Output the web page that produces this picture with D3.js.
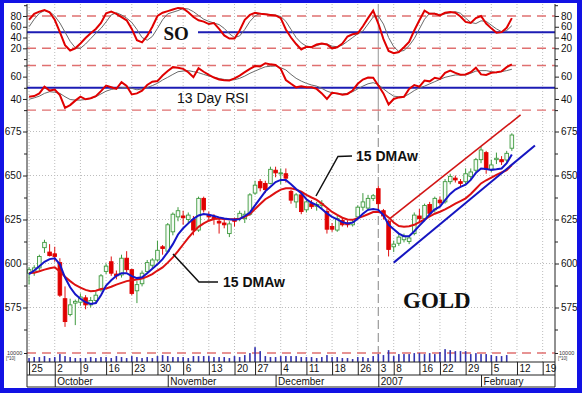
<!DOCTYPE html>
<html>
<head>
<meta charset="utf-8">
<script src="https://cdnjs.cloudflare.com/ajax/libs/d3/7.8.5/d3.min.js"></script>
<style>
  html, body { margin: 0; padding: 0; background: #fff; }
  svg { display: block; font-family: Arial, "Liberation Sans", sans-serif; }
</style>
</head>
<body>
<div id="chart"></div>
<script>
// trading days 0..94 = Sep 25 2006 .. Feb 9 2007
const opens = [594.5,595,597.5,609,606.5,605.5,600.5,580,571,577.5, 578,580.5,576.5,579,585,595.5,601,594,593.5,603,
  596.5,584.5,588.5,595.5,599,602,609.5,607,618,626.5, 627,625,625,619,637,627.5,626.5,624,623,617,
  625,625.5,625.5,628,640,646.5,645.5,645.5,653,651, 651,641,635,639,630.5,634,632.5,633,629.5,621,
  619,624.5,623,622,626.5,632,631.5,637,642.5,630, 624,609.5,611.5,613.5,612.5,617,627,625.5,633.5,630.5,
  636,635,646.5,648.5,646.5,646.5,649.5,653,659,663, 653.5,659,659,658.8,665.5];
const highs = [598,599,605,613.5,611,609.5,603,587,580,579.5, 583,582,581,584,594,600,604,596,605,607,
  597,590,596,602,603,613,610.5,623,629,632, 630,629,627,638,638,629.5,628,626,625,624,
  626,630,630,640,647,648,647,655,655,654, 654,642,640,640,636,636,635,636,631,623,
  627,626,624.5,625,633,640,639,639.5,644,631, 625,613,617,617,616,629,631,634,635,638,
  638,648,651,650,648,654,654,660,666.5,664, 659,663,661,664,674];
const lows = [588,593,596,606,604,601,581,564,570,565, 576,574,575,577,584,594,593,591,592,595,
  582,577.5,587,594,597,601,605,606,616,624, 622,623,616,618,629,624,622,617,620,615,
  621,624,623,627,639,641,640,645,649,645, 646,634,631.5,628,629,631,630,631,617,618,
  618,621,620.5,621,625,630,630,635.5,631,625, 604,606.5,610,612,611,616,623,624,627,629,
  633,634,645,646,644,645,648,652,657,651, 652,656.5,656,657,664];
const closes = [596.5,597.5,604,612,604.5,604,582,567,576.5,578.5, 581,576.5,579,582,593,598.5,594.5,593,603,596.5,
  583,588,594.5,600.5,602,607.5,608.5,622,628,630, 626,627.5,619,637,630.5,626.5,625.5,623,622,622.5,
  624,628.5,628,639,644.5,643,642,653.5,651.5,651.5, 648.5,636,639,629.5,635,632.3,633.5,634,619.5,619.5,
  625.5,622,622,623.5,632,635,637,638.5,634,627, 608,611,615,615.5,614.5,627.5,625.5,633,628.5,637,
  634.5,646.5,649.5,647.5,645.5,651,652,659,664.5,653.5, 656,659.8,657.8,662.6,673];

// moving averages (blue = fast, red = slow)
const maBlue = [594,596,598.5,601,602.5,603,599.5,592,586.5,582.5, 580,578,577,577.5,582,587.5,590.5,593,594.5,594.5,
  592.8,591.7,592.2,594.5,597,599.5,602.5,606.5,611,616.5, 620,622.8,625.4,627.3,628.1,627.7,627,626.2,625.6,625.1,
  624.8,625.2,627,629,633,637,641,643.6,646.3,647.5, 647.5,645,642.3,640,636.5,634.5,633.2,631,628.5,626.5,
  625.1,623.5,622.8,623.2,625.5,628.3,630.5,631,630.5,627.5, 622,619.5,617,615.5,615.5,618.3,621.5,624.5,628,630.8,
  632.3,636,639.5,642,643.5,644.8,647.5,651.5,654,653.7, 653.2,653.5,654,657,662];
const maRed = [594.6,594.8,595.6,596.5,597.3,597.8,595.5,592.5,590,587.8, 586.3,585,584.2,584.5,585.5,585.8,586.8,588,589,590,
  590.5,590.9,591.5,592.5,594,596,597.8,600.5,603.5,607, 610.8,614.5,618,620.8,622.8,624.3,625.3,625.6,625.3,625.1,
  625.1,625.5,626.5,628.2,631,633.8,636.5,638.3,640.3,642, 642.7,642.7,642,640.8,639,637.5,636.1,634,631.7,629.3,
  627.6,626,625,624.8,625.8,626.8,628,629.2,629.3,628.5, 626.2,623.3,621.3,620.9,621.2,622,623.5,625,626.8,628.3,
  629.4,630.8,632.3,634,635.5,637,639.5,642.5,645.5,647.3, 648.8,650.3,651.7,653.1,655.9];

// stochastic oscillator
const soK = [73,84,88,91,87,73,50,26,16,20, 29,39,48,56,67,85,88,84,78,72, 56,35,31,43,60,80,86,89,92,95,
  94,87,78,72,69.5,65,67,56,44,38, 38,53,73,82,86,84,83,82,81,76, 55,40,28,18,23,22,27,29,27,20,
  22,29,42,46,48,61,76,90,66,37, 15,11,13,22,32,53,72,90,84,84, 81,86,87.4,86,79,69,67,76,80,66, 57,49,50,58,76];
const soD = [60,74,85,90,88,80,67,50,33,21, 20,28,38,48,57,69,82,86,82,76, 68,55,40,35,42,57,73,84,87,90,
  94,93,88,81,74,70,67,64,57,47, 40,43,55,70,80,85,83.7,82.4,81.5,79, 70,55,40,30,24,23,25,28,28,24,
  23,26,33,40,47,52,65,78,80,65, 40,23,14,16,25,38,56,74,85,85, 82,84,86,88,85,76,68,66,71,70, 63,56,51,53,62];

// 13 day RSI and its signal
const rsi = [42,42.6,45,51,47.5,48.5,43.5,32,34.5,38.5, 42,39.7,40.6,42.5,47,52,50.5,49,55,51.6,
  44,45,47.4,52.5,55.5,56,61,65,68.5,68, 67,64,59.5,67.5,64.4,61.5,59.2,57.4,56.8,56.6,
  58.5,61,64,67,69.5,69.2,72,71,70.5,67, 57,53.6,50.4,51.3,50.6,50.4,49,45,40,45.6,
  45,43.8,44.5,47.6,53.6,57.4,59.2,59,52,45, 35,40,41.4,42,49,52.5,51,56.5,55.8,59,
  58,63.5,65.4,63.4,61.8,62,64,68,62,61.5, 63.5,64,64.7,68.5,71];
const rsiSig = [39.7,41,42.5,45,46.5,46,45,42,39.5,39, 39,39.5,40.5,42,44.5,47,48.5,49.3,50,50.4,
  49.5,48.2,49,50.2,52,54,57,59.4,62,64.4, 65,65.4,64.5,63.5,62,60.6,59.5,58.3,57.5,57,
  57.2,58.5,60.5,63,65,67,68.8,69.3,69.6,68, 66,62,58.5,56,54,52.5,51.5,49.5,47,45.5,
  44.5,44.5,45,46.5,49,51.5,53.6,54.6,53,49, 45.5,42.5,42,42,44.5,47.5,50,51.5,53.5,55.5,
  57.5,59.4,60.5,61.5,61.5,61.5,63,65,65.4,65.4, 64.5,63.5,64.5,65.4,66.6];

// volume (days 0..93)
const volume = [4400,5500,5500,6600,4400,5500,8800,6600,5500,4400, 4400,4400,5500,4400,5500,5500,4400,6600,5500,4400,
  6600,5500,4400,5500,4400,6600,7700,6600,5500,5500, 5500,4400,6600,6600,6600,6600,5500,5500,5500,4400,
  6600,5500,7700,9900,16500,12100,6600,5500,5500,6600, 6600,6600,6600,5500,5500,5500,4400,5500,7700,5500,
  5500,4400,4400,3300,5500,5500,4400,6600,8800,7700, 13200,6600,8800,8800,8800,9900,9900,8800,9900,8800,
  11000,14300,13200,12100,12100,12100,8800,9900,8800,8800, 7700,6600,6600,7700];

// trend channel (day index, price)
const chanUpDays = [70.3, 95.7], chanUpPrices = [625.7, 684.4];
const chanLoDays = [71, 98.5], chanLoPrices = [600.5, 667];

// axis labels
const weekDays = [0,5,10,15,20,25,30,35,40,44,49,54,59,64,68,71,76,80,85,90,95,100];
const weekLabels = ['25','2','9','16','23','30','6','13','20','27','4','11','18','26','3','8','16','22','29','5','12','19'];
const monthDays = [5,27,48,68,88];
const monthLabels = ['October','November','December','2007','February'];
const priceTicks = [575,600,625,650,675];
const priceMinor = [562.5,587.5,612.5,637.5,662.5];
const soTicks = [20,40,60,80];
const rsiTicks = [40,60];

const W = 582, H = 393;
const L = 27, R = 555, BOT = 362;

const svg = d3.select('#chart').append('svg').attr('width', W).attr('height', H);
svg.append('rect').attr('width', W).attr('height', H).attr('fill', '#1212e4');
svg.append('rect').attr('x', 4).attr('y', 3).attr('width', 573).attr('height', 385).attr('fill', '#fff');

const x = d3.scaleLinear().domain([-0.5, 102.5]).range([26.5, 555.5]);
const ySO = d3.scaleLinear().domain([0, 100]).range([59.1, 5.2]);
const yRSI = d3.scaleLinear().domain([25, 75]).range([115.7, 59.9]);
const yP = d3.scaleLinear().domain([560, 685]).range([333.9, 113.9]);
const yV = d3.scaleLinear().domain([0, 10000]).range([BOT, 353]);

const defs = svg.append('defs');
function clip(id, y0, y1) {
  defs.append('clipPath').attr('id', id).append('rect')
    .attr('x', L).attr('y', y0).attr('width', R - L).attr('height', y1 - y0);
}
clip('cSO', 4, 61); clip('cRSI', 58, 117); clip('cP', 112, 342);

// grid
const grid = svg.append('g');
weekDays.filter(d => d !== 68).forEach(d => {
  grid.append('line').attr('x1', x(d)).attr('x2', x(d)).attr('y1', 4).attr('y2', BOT)
    .attr('stroke', '#bdbdbd').attr('stroke-width', 1).attr('stroke-dasharray', '1,2');
});
priceTicks.forEach(v => {
  grid.append('line').attr('x1', L).attr('x2', R).attr('y1', yP(v)).attr('y2', yP(v))
    .attr('stroke', '#bdbdbd').attr('stroke-width', 1).attr('stroke-dasharray', '1,2');
});
grid.append('line').attr('x1', x(68)).attr('x2', x(68)).attr('y1', 4).attr('y2', 112)
  .attr('stroke', '#a8a8a8').attr('stroke-width', 1.2);
grid.append('line').attr('x1', x(68)).attr('x2', x(68)).attr('y1', 112).attr('y2', BOT)
  .attr('stroke', '#9a9a9a').attr('stroke-width', 1.2).attr('stroke-dasharray', '9,4');

// reference levels
const dashRed = (y) => svg.append('line').attr('x1', L).attr('x2', R).attr('y1', y).attr('y2', y)
  .attr('stroke', '#e07070').attr('stroke-width', 1.4).attr('stroke-dasharray', '9,6');
dashRed(ySO(80)); dashRed(ySO(20)); dashRed(yRSI(70)); dashRed(yRSI(30)); dashRed(yV(10000));
const blueLvl = (y) => svg.append('line').attr('x1', L).attr('x2', R).attr('y1', y).attr('y2', y)
  .attr('stroke', '#1c1cb4').attr('stroke-width', 2);
blueLvl(ySO(50)); blueLvl(yRSI(50));
svg.append('rect').attr('x', 152).attr('y', 26).attr('width', 46).attr('height', 15).attr('fill', '#fff');

// oscillators
const lineOf = (ys) => d3.line().x((d, i) => x(i)).y(d => ys(d));
const gSO = svg.append('g').attr('clip-path', 'url(#cSO)');
gSO.append('path').attr('d', lineOf(ySO)(soD)).attr('fill', 'none').attr('stroke', '#6a6a6a').attr('stroke-width', 1);
gSO.append('path').attr('d', lineOf(ySO)(soK)).attr('fill', 'none').attr('stroke', '#e00000').attr('stroke-width', 2);
const gR = svg.append('g').attr('clip-path', 'url(#cRSI)');
gR.append('path').attr('d', lineOf(yRSI)(rsiSig)).attr('fill', 'none').attr('stroke', '#6a6a6a').attr('stroke-width', 1);
gR.append('path').attr('d', lineOf(yRSI)(rsi)).attr('fill', 'none').attr('stroke', '#e00000').attr('stroke-width', 2);

// candles
const gP = svg.append('g').attr('clip-path', 'url(#cP)');
const candles = opens.map((o, i) => ({ i, o, h: highs[i], l: lows[i], c: closes[i] }));
const up = d => d.c >= d.o;
gP.selectAll('line.wick').data(candles).enter().append('line')
  .attr('x1', d => x(d.i)).attr('x2', d => x(d.i))
  .attr('y1', d => yP(d.h)).attr('y2', d => yP(d.l))
  .attr('stroke', d => up(d) ? '#3f9a3f' : '#e01010').attr('stroke-width', 1);
gP.selectAll('rect.body').data(candles).enter().append('rect')
  .attr('x', d => x(d.i) - 1.8).attr('width', 3.6)
  .attr('y', d => yP(Math.max(d.o, d.c)))
  .attr('height', d => Math.max(1, Math.abs(yP(d.o) - yP(d.c))))
  .attr('fill', d => up(d) ? '#f4fbf4' : '#e00000')
  .attr('stroke', d => up(d) ? '#3f9a3f' : '#e00000').attr('stroke-width', 0.9);

// moving averages
gP.append('path').attr('d', lineOf(yP)(maRed)).attr('fill', 'none').attr('stroke', '#dd1111').attr('stroke-width', 2);
gP.append('path').attr('d', lineOf(yP)(maBlue)).attr('fill', 'none').attr('stroke', '#1515c8').attr('stroke-width', 2);

// channel
gP.append('line').attr('x1', x(chanUpDays[0])).attr('y1', yP(chanUpPrices[0]))
  .attr('x2', x(chanUpDays[1])).attr('y2', yP(chanUpPrices[1]))
  .attr('stroke', '#d21414').attr('stroke-width', 1.6);
gP.append('line').attr('x1', x(chanLoDays[0])).attr('y1', yP(chanLoPrices[0]))
  .attr('x2', x(chanLoDays[1])).attr('y2', yP(chanLoPrices[1]))
  .attr('stroke', '#1515c0').attr('stroke-width', 2);

// volume
svg.selectAll('rect.vol').data(volume).enter().append('rect')
  .attr('x', (d, i) => x(i) - 0.8).attr('width', 1.6)
  .attr('y', d => yV(d)).attr('height', d => BOT - yV(d))
  .attr('fill', '#3434b0');

// frame lines
svg.append('line').attr('x1', L).attr('x2', L).attr('y1', 4).attr('y2', 387).attr('stroke', '#222');
svg.append('line').attr('x1', R).attr('x2', R).attr('y1', 4).attr('y2', 387).attr('stroke', '#222');
[BOT, 375, 387].forEach(y => svg.append('line').attr('x1', L).attr('x2', R).attr('y1', y).attr('y2', y).attr('stroke', '#222'));

// axes
function styleAxis(g) {
  g.select('.domain').remove();
  g.attr('font-family', 'Arial, "Liberation Sans", sans-serif').attr('font-size', 10);
  g.selectAll('line').attr('stroke', '#222');
  g.selectAll('text').attr('fill', '#111');
}
function sideAxes(scale, vals, minor) {
  svg.append('g').attr('transform', `translate(${L},0)`)
    .call(d3.axisLeft(scale).tickValues(vals).tickSize(4).tickPadding(1.5)).call(styleAxis);
  svg.append('g').attr('transform', `translate(${R},0)`)
    .call(d3.axisRight(scale).tickValues(vals).tickSize(4).tickPadding(2)).call(styleAxis);
  if (minor) {
    svg.append('g').attr('transform', `translate(${L},0)`)
      .call(d3.axisLeft(scale).tickValues(minor).tickSize(3).tickFormat('')).call(styleAxis);
    svg.append('g').attr('transform', `translate(${R},0)`)
      .call(d3.axisRight(scale).tickValues(minor).tickSize(3).tickFormat('')).call(styleAxis);
  }
}
sideAxes(yP, priceTicks, priceMinor);
sideAxes(ySO, soTicks, [0, 100]);
sideAxes(yRSI, rsiTicks, [30, 50, 70]);
svg.append('g').attr('transform', `translate(${L},0)`)
  .call(d3.axisLeft(yV).tickValues([10000]).tickSize(3).tickFormat('')).call(styleAxis);
svg.append('g').attr('transform', `translate(${R},0)`)
  .call(d3.axisRight(yV).tickValues([10000]).tickSize(3).tickFormat('')).call(styleAxis);
[[6, 'start'], [558, 'start']].forEach(([tx]) => {
  svg.append('text').attr('x', tx + 1).attr('y', 354.5).attr('font-size', 5.5).attr('fill', '#333').text('10000');
  svg.append('text').attr('x', tx).attr('y', 359.5).attr('font-size', 4.5).attr('fill', '#333').text('[*10]');
});

// date rows
const gx = svg.append('g').attr('transform', `translate(0,${BOT})`)
  .call(d3.axisBottom(x).tickValues(weekDays).tickFormat((d, i) => weekLabels[i]).tickSize(13)).call(styleAxis);
gx.selectAll('text').attr('text-anchor', 'start').attr('x', 2).attr('y', 3).attr('dy', '0.72em');
const gm = svg.append('g').attr('transform', 'translate(0,375)')
  .call(d3.axisBottom(x).tickValues(monthDays).tickFormat((d, i) => monthLabels[i]).tickSize(12)).call(styleAxis);
gm.selectAll('text').attr('text-anchor', 'start').attr('x', 2).attr('y', 3).attr('dy', '0.72em');

// annotations
svg.append('text').attr('x', 163.5).attr('y', 40).attr('font-family', '"Liberation Serif", "Times New Roman", serif')
  .attr('font-weight', 'bold').attr('font-size', 19).attr('fill', '#111').text('SO');
svg.append('text').attr('x', 177).attr('y', 102.5).attr('font-size', 14).attr('fill', '#111').text('13 Day RSI');
svg.append('text').attr('x', 403).attr('y', 308).attr('font-family', '"Liberation Serif", "Times New Roman", serif')
  .attr('font-weight', 'bold').attr('font-size', 23).attr('fill', '#111').text('GOLD');
svg.append('text').attr('x', 356).attr('y', 160.5).attr('font-weight', 'bold').attr('font-size', 14).attr('fill', '#111').text('15 DMAw');
svg.append('polyline').attr('points', '352,156 338,156.5 316,196').attr('fill', 'none').attr('stroke', '#111').attr('stroke-width', 1.5);
svg.append('text').attr('x', 223).attr('y', 287).attr('font-weight', 'bold').attr('font-size', 14).attr('fill', '#111').text('15 DMAw');
svg.append('polyline').attr('points', '218,282 199,282 173,254').attr('fill', 'none').attr('stroke', '#111').attr('stroke-width', 1.5);
</script>
</body>
</html>
